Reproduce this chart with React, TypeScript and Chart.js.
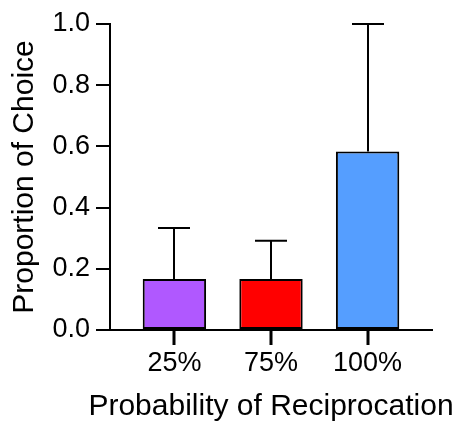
import React, { useEffect, useRef } from "react";
import { Chart, registerables } from "chart.js";

Chart.register(...registerables);

// Reciprocation probability groups and their mean choice proportions
const categories: string[] = ["25%", "75%", "100%"];
const means: number[] = [0.167, 0.167, 0.583];
// Upward error (added to the mean) for each group
const errorsUp: number[] = [0.166, 0.125, 0.417];
const barColors: string[] = ["#B058FF", "#FF0000", "#559EFF"];
const yTicks: number[] = [0, 0.2, 0.4, 0.6, 0.8, 1.0];
const xTitle = "Probability of Reciprocation";
const yTitle = "Proportion of Choice";

const FONT = "'Liberation Sans', Arial, Helvetica, sans-serif";
const TICK_LEN = 14;

// Draws upper error whiskers with caps on top of each bar
const upperErrorBars = {
  id: "upperErrorBars",
  afterDatasetsDraw(chart: any) {
    const { ctx, scales } = chart;
    const xs = scales.x;
    const ys = scales.y;
    ctx.save();
    ctx.strokeStyle = "#000";
    ctx.lineWidth = 2;
    means.forEach((m, i) => {
      const x = Math.round(xs.getPixelForValue(i + 1));
      const yBase = ys.getPixelForValue(m);
      const yTop = ys.getPixelForValue(m + errorsUp[i]);
      const half = 16;
      ctx.beginPath();
      ctx.moveTo(x, yBase);
      ctx.lineTo(x, yTop);
      ctx.moveTo(x - half, yTop);
      ctx.lineTo(x + half, yTop);
      ctx.stroke();
    });
    ctx.restore();
  },
};

// Category tick marks below the x axis and the bottom axis title
const bottomAxisExtras = {
  id: "bottomAxisExtras",
  afterDraw(chart: any) {
    const { ctx, chartArea, scales } = chart;
    const xs = scales.x;
    ctx.save();
    ctx.fillStyle = "#000";
    categories.forEach((_, i) => {
      const x = Math.round(xs.getPixelForValue(i + 1));
      ctx.fillRect(x - 1.5, chartArea.bottom, 3, TICK_LEN + 1);
    });
    ctx.font = `30px ${FONT}`;
    ctx.textAlign = "center";
    ctx.textBaseline = "alphabetic";
    ctx.fillText(xTitle, (chartArea.left + chartArea.right) / 2, chart.height - 7);
    ctx.restore();
  },
};

export default function App() {
  const canvasRef = useRef<HTMLCanvasElement | null>(null);

  useEffect(() => {
    if (!canvasRef.current) return;
    Chart.defaults.font.family = FONT;
    const chart = new Chart(canvasRef.current, {
      type: "bar",
      data: {
        datasets: [
          {
            data: means.map((m, i) => ({ x: i + 1, y: m })),
            backgroundColor: barColors,
            borderColor: "#000",
            borderWidth: 2,
            borderSkipped: false,
            barPercentage: 0.82,
            categoryPercentage: 0.8,
          },
        ],
      },
      options: {
        animation: false,
        responsive: true,
        maintainAspectRatio: false,
        layout: { padding: { top: 24, right: 25, left: 0, bottom: 0 } },
        plugins: {
          legend: { display: false },
          tooltip: { enabled: false },
        },
        scales: {
          x: {
            type: "linear",
            offset: false,
            min: 1 / 3,
            max: 11 / 3,
            afterBuildTicks: (scale: any) => {
              scale.ticks = categories.map((_, i) => ({ value: i + 1 }));
            },
            afterFit: (scale: any) => {
              scale.height = 92;
            },
            border: { display: true, color: "#000", width: 2 },
            grid: {
              offset: false,
              drawOnChartArea: false,
              drawTicks: true,
              tickLength: TICK_LEN,
              color: "#000",
              lineWidth: 2,
            },
            ticks: {
              color: "#000",
              font: { size: 27 },
              padding: 3,
              maxRotation: 0,
              autoSkip: false,
              callback: (v: any) => categories[Math.round(Number(v)) - 1] ?? "",
            },
          },
          y: {
            min: 0,
            max: 1,
            afterBuildTicks: (scale: any) => {
              scale.ticks = yTicks.map((v) => ({ value: v }));
            },
            afterFit: (scale: any) => {
              scale.width = 110;
            },
            border: { display: true, color: "#000", width: 2 },
            grid: {
              drawOnChartArea: false,
              drawTicks: true,
              tickLength: TICK_LEN,
              color: "#000",
              lineWidth: 2,
            },
            ticks: {
              color: "#000",
              font: { size: 27 },
              padding: 6,
              callback: (v: any) => Number(v).toFixed(1),
            },
            title: {
              display: true,
              text: yTitle,
              color: "#000",
              font: { size: 30 },
              padding: { top: 7, bottom: 0 },
            },
          },
        },
      },
      plugins: [upperErrorBars, bottomAxisExtras],
    });
    return () => chart.destroy();
  }, []);

  return (
    <div
      style={{
        position: "fixed",
        left: 0,
        top: 0,
        width: 457,
        height: 422,
        background: "#fff",
      }}
    >
      <canvas ref={canvasRef} />
    </div>
  );
}
